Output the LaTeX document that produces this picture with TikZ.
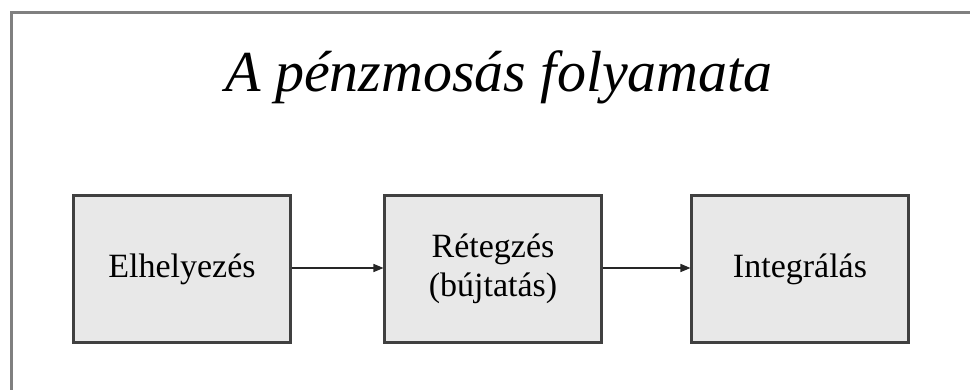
\documentclass[tikz,border=0pt]{standalone}
\usepackage{fontspec}
\setmainfont{Liberation Serif}
\usepackage{tikz}
\usetikzlibrary{arrows,positioning}

\begin{document}
\begin{tikzpicture}[x = 1pt, y = -1pt, > = triangle 45,
    etap/.style = {fill = black!9, draw = black!75, line width = 2.2pt, minimum width = 217pt, minimum height = 147pt, inner sep = 0pt, align = center, font = \fontsize{34}{39}\selectfont}]
    \useasboundingbox (0,0) rectangle (970,390);
    % keret
    \draw[black!50, line width = 3pt] (11,400) -- (11,13) -- (980,13);
    \node at (499,92) [anchor = base, font = \fontsize{58}{64}\selectfont\itshape] (cim) {A pénzmosás folyamata};
    \node at (182,269) [etap] (elh) {Elhelyezés};
    \node at (493,269) [etap] (ret) {Rétegzés\\(bújtatás)};
    \node at (800,269) [etap] (int) {Integrálás};
    \draw[->, line width = 1.3pt, black!85] (elh.east |- 0,268) -- (ret.west |- 0,268);
    \draw[->, line width = 1.3pt, black!85] (ret.east |- 0,268) -- (int.west |- 0,268);
\end{tikzpicture}
\end{document}
